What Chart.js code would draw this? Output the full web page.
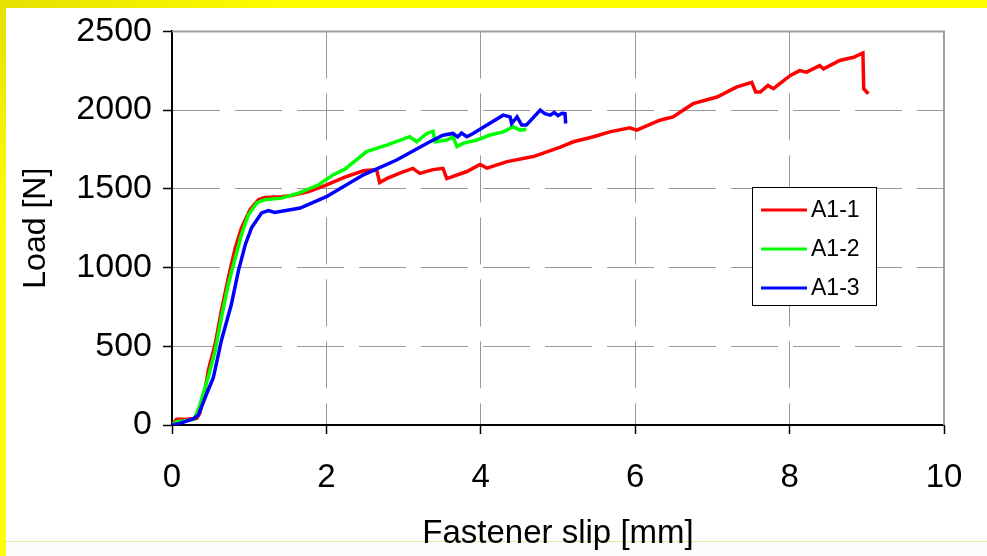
<!DOCTYPE html>
<html>
<head>
<meta charset="utf-8">
<script src="https://cdn.jsdelivr.net/npm/chart.js@4/dist/chart.umd.min.js"></script>
<style>
  html, body { margin: 0; padding: 0; background: #ffffff; }
  #wrap { position: relative; width: 987px; height: 556px; overflow: hidden; background: #ffffff; }
  #topband { position: absolute; left: 0; top: 0; width: 987px; height: 8px; background: linear-gradient(to right, #e6e000, #ffff00 30%, #ffff00); }
  #leftband { position: absolute; left: 0; top: 0; width: 6px; height: 556px; background: linear-gradient(to bottom, #e6e000, #ffff00 40%, #ffff00); }
  #botline { position: absolute; left: 6px; top: 541px; width: 981px; height: 1px; background: #e8e6a0; }
  #botfill { position: absolute; left: 6px; top: 542px; width: 981px; height: 14px; background: #fbfbfb; }
  canvas { position: absolute; left: 0; top: 0; }
</style>
</head>
<body>
<div id="wrap">
  <div id="botfill"></div>
  <div id="botline"></div>
  <canvas id="c" width="987" height="556"></canvas>
  <div id="topband"></div>
  <div id="leftband"></div>
</div>
<script>
// ---- data ----
const seriesNames = ["A1-1", "A1-2", "A1-3"];
const seriesColors = ["#ff0000", "#00ff00", "#0000ff"];
const xTicks = [0, 2, 4, 6, 8, 10];
const yTicks = [0, 500, 1000, 1500, 2000, 2500];

const a11Slip = [0, 0.03, 0.06, 0.20, 0.32, 0.36, 0.42, 0.47, 0.56, 0.64, 0.73, 0.82, 0.90, 1.01, 1.12, 1.20, 1.42, 1.55, 1.77, 1.98, 2.24, 2.48, 2.65, 2.69, 2.78, 2.95, 3.12, 3.21, 3.38, 3.51, 3.56, 3.82, 3.99, 4.08, 4.34, 4.68, 5.03, 5.20, 5.46, 5.67, 5.93, 6.02, 6.32, 6.49, 6.75, 7.06, 7.31, 7.51, 7.56, 7.62, 7.72, 7.79, 8.01, 8.13, 8.22, 8.39, 8.44, 8.65, 8.83, 8.95, 8.96, 9.02];
const a11Load = [0, 20, 36, 38, 42, 74, 200, 347, 516, 726, 936, 1126, 1252, 1368, 1431, 1445, 1450, 1458, 1483, 1520, 1575, 1615, 1622, 1540, 1565, 1600, 1630, 1598, 1622, 1630, 1565, 1610, 1655, 1632, 1673, 1705, 1765, 1799, 1831, 1862, 1888, 1873, 1936, 1957, 2041, 2083, 2146, 2176, 2115, 2115, 2157, 2136, 2220, 2251, 2241, 2283, 2262, 2315, 2336, 2363, 2136, 2104];

const a12Slip = [0, 0.05, 0.28, 0.34, 0.40, 0.47, 0.56, 0.64, 0.73, 0.82, 0.90, 0.99, 1.10, 1.20, 1.42, 1.64, 1.90, 2.09, 2.24, 2.52, 2.78, 3.08, 3.17, 3.30, 3.38, 3.41, 3.56, 3.64, 3.69, 3.77, 3.95, 4.12, 4.29, 4.42, 4.51, 4.59];
const a12Load = [0, 20, 35, 95, 190, 305, 473, 684, 894, 1062, 1210, 1336, 1410, 1431, 1441, 1473, 1526, 1590, 1625, 1736, 1778, 1831, 1799, 1852, 1866, 1799, 1810, 1831, 1768, 1789, 1810, 1842, 1862, 1894, 1873, 1879];

const a13Slip = [0, 0.10, 0.28, 0.34, 0.45, 0.535, 0.64, 0.77, 0.86, 0.95, 1.03, 1.16, 1.25, 1.33, 1.66, 2.00, 2.48, 2.91, 3.34, 3.51, 3.64, 3.70, 3.75, 3.82, 3.90, 4.08, 4.29, 4.38, 4.40, 4.47, 4.53, 4.59, 4.77, 4.83, 4.90, 4.95, 5.00, 5.05, 5.09, 5.10];
const a13Load = [0, 10, 40, 63, 200, 300, 537, 768, 979, 1147, 1252, 1347, 1362, 1350, 1378, 1450, 1589, 1683, 1799, 1841, 1852, 1830, 1855, 1831, 1852, 1905, 1968, 1957, 1915, 1957, 1905, 1905, 2000, 1978, 1968, 1985, 1965, 1980, 1978, 1915];

const xTitle = "Fastener slip [mm]";
const yTitle = "Load [N]";

function pts(xs, ys) { return xs.map((x, i) => ({ x: x, y: ys[i] })); }
const allSlip = [a11Slip, a12Slip, a13Slip];
const allLoad = [a11Load, a12Load, a13Load];

const FONT = "'Liberation Sans', Arial, sans-serif";

const plotFrame = {
  id: 'plotFrame',
  beforeDatasetsDraw(chart) {
    const { ctx, chartArea: a } = chart;
    ctx.save();
    ctx.strokeStyle = '#a0a0a0';
    ctx.lineWidth = 2;
    ctx.beginPath();
    ctx.moveTo(a.left, a.top);
    ctx.lineTo(a.right, a.top);
    ctx.lineTo(a.right, a.bottom);
    ctx.stroke();
    ctx.restore();
  }
};

const boxLegend = {
  id: 'boxLegend',
  afterDatasetsDraw(chart) {
    const { ctx } = chart;
    const left = 752, top = 187, w = 124, h = 118;
    ctx.save();
    ctx.fillStyle = '#ffffff';
    ctx.fillRect(left, top, w, h);
    ctx.strokeStyle = '#000000';
    ctx.lineWidth = 1;
    ctx.strokeRect(left + 0.5, top + 0.5, w, h);
    ctx.font = '23px ' + FONT;
    ctx.textBaseline = 'middle';
    chart.data.datasets.forEach((ds, i) => {
      const yy = top + 23 + i * 39;
      ctx.strokeStyle = ds.borderColor;
      ctx.lineWidth = 3;
      ctx.beginPath();
      ctx.moveTo(left + 9, yy);
      ctx.lineTo(left + 55, yy);
      ctx.stroke();
      ctx.fillStyle = '#000000';
      ctx.fillText(ds.label, left + 59, yy + 1);
    });
    ctx.restore();
  }
};

new Chart(document.getElementById('c'), {
  type: 'line',
  data: {
    datasets: seriesNames.map((n, i) => ({
      label: n,
      data: pts(allSlip[i], allLoad[i]),
      borderColor: seriesColors[i],
      backgroundColor: seriesColors[i],
      borderWidth: 3.5,
      pointRadius: 0,
      tension: 0,
      fill: false,
      order: seriesNames.length - i
    }))
  },
  options: {
    responsive: false,
    animation: false,
    layout: { padding: { left: 0, top: 27, right: 43, bottom: 0 } },
    plugins: { legend: { display: false }, tooltip: { enabled: false } },
    scales: {
      x: {
        type: 'linear',
        min: 0, max: 10,
        afterBuildTicks: s => { s.ticks = xTicks.map(v => ({ value: v })); },
        afterFit: s => { s.height = 131; },
        grid: { color: '#999999', lineWidth: 1, tickLength: 9, tickColor: '#000000', tickWidth: 1.5 },
        border: { display: true, color: '#000000', width: 2, dash: [47, 15] },
        ticks: { font: { family: FONT, size: 33 }, color: '#000000', padding: 24, maxRotation: 0, callback: v => String(v) },
        title: { display: true, text: xTitle, font: { family: FONT, size: 33 }, color: '#000000', padding: { top: 0, bottom: 2 } }
      },
      y: {
        type: 'linear',
        min: 0, max: 2500,
        afterBuildTicks: s => { s.ticks = yTicks.map(v => ({ value: v })); },
        afterFit: s => { s.width = 172; },
        grid: { color: '#999999', lineWidth: 1, tickLength: 9, tickColor: '#000000', tickWidth: 1.5 },
        border: { display: true, color: '#000000', width: 2, dash: [47, 15] },
        ticks: { font: { family: FONT, size: 34 }, color: '#000000', padding: 11, callback: v => String(v) },
        title: { display: true, text: yTitle, font: { family: FONT, size: 32 }, color: '#000000', padding: { top: 17, bottom: 0 } }
      }
    }
  },
  plugins: [plotFrame, boxLegend]
});
</script>
</body>
</html>
